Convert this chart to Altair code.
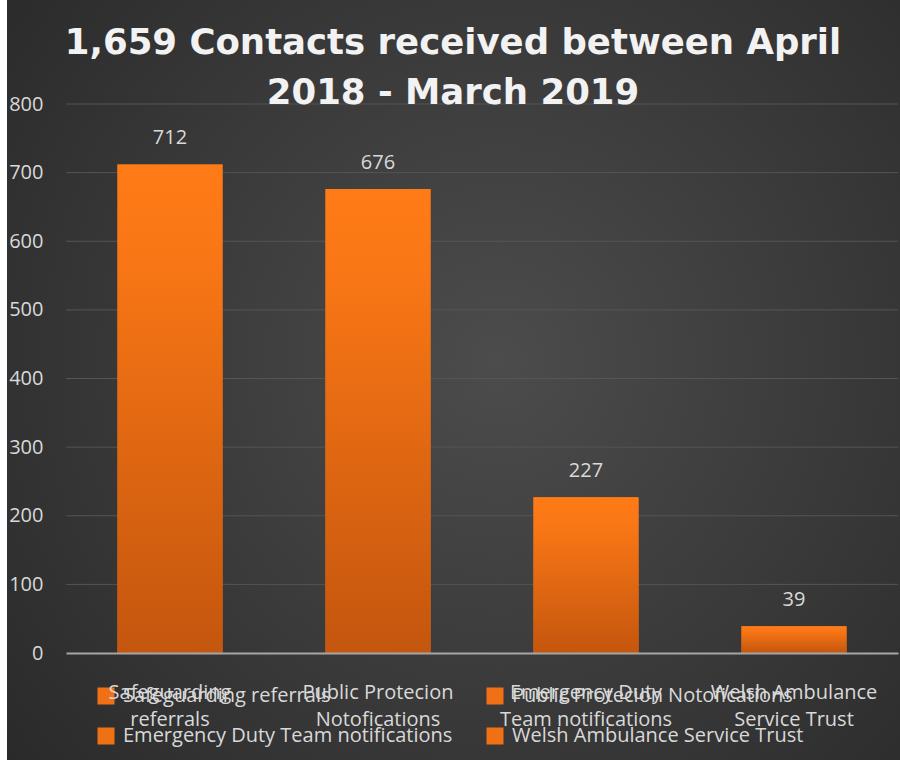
import altair as alt
import pandas as pd

# ---- data ----
names = [
    "Safeguarding referrals",
    "Public Protecion Notofications",
    "Emergency Duty Team notifications",
    "Welsh Ambulance Service Trust",
]
axis_labels = [
    "Safeguarding|referrals",
    "Public Protecion|Notofications",
    "Emergency Duty|Team notifications",
    "Welsh Ambulance|Service Trust",
]
counts = [712, 676, 227, 39]
y_ticks = [0, 100, 200, 300, 400, 500, 600, 700, 800]
title_lines = ["1,659 Contacts received between April", "2018 - March 2019"]

df = pd.DataFrame({"name": names, "axis_label": axis_labels, "count": counts})
grid_df = pd.DataFrame({"count": y_ticks[1:]})

# legend is laid out column by column: order so rows read as in the reference
legend_order = [names[0], names[2], names[1], names[3]]

FONT = "Open Sans"
TXT = "#d9d9d9"

bg_grad = alt.RadialGradient(
    gradient="radial",
    x1=0.55, y1=0.48, r1=0.0,
    x2=0.55, y2=0.48, r2=0.75,
    stops=[
        alt.GradientStop(offset=0, color="#4c4c4c"),
        alt.GradientStop(offset=1, color="#282828"),
    ],
)
bar_grad = alt.LinearGradient(
    gradient="linear",
    x1=0, y1=0, x2=0, y2=1,
    stops=[
        alt.GradientStop(offset=0, color="#ff7b17"),
        alt.GradientStop(offset=0.2, color="#f87615"),
        alt.GradientStop(offset=1, color="#c4560e"),
    ],
)

x_enc = alt.X(
    "axis_label:N",
    sort=None,
    scale=alt.Scale(paddingInner=0.495, paddingOuter=0.2475),
    axis=alt.Axis(
        title=None,
        labelExpr="split(datum.label, '|')",
        labelAngle=0,
        labelFont=FONT,
        labelFontSize=20,
        labelColor=TXT,
        labelLineHeight=27,
        labelPadding=29,
        labelBaseline="top",
        ticks=False,
        domain=True,
        domainColor="#a6a6a6",
        domainWidth=2,
        grid=False,
        zindex=1,
    ),
)
y_enc = alt.Y(
    "count:Q",
    scale=alt.Scale(domain=[0, 800], nice=False),
    axis=alt.Axis(
        title=None,
        values=y_ticks,
        labelFont=FONT,
        labelFontSize=20,
        labelColor=TXT,
        labelPadding=23,
        ticks=False,
        domain=False,
        grid=False,
        zindex=1,
    ),
)

bg = alt.Chart(alt.Data(values=[{"a": 1}])).mark_rect(
    color=bg_grad
).encode(
    x=alt.value(-59), x2=alt.value(834), y=alt.value(-104), y2=alt.value(656)
)

grid = alt.Chart(grid_df).mark_rule(color="#555555", strokeWidth=1).encode(
    y=y_enc, x=alt.value(0), x2=alt.value(832)
)

legend_bars = alt.Chart(df).mark_bar().encode(
    x=x_enc,
    y=y_enc,
    color=alt.Color(
        "name:N",
        scale=alt.Scale(domain=legend_order, range=["#f07016"] * 4),
        legend=alt.Legend(
            orient="none",
            legendX=30,
            legendY=582,
            columns=2,
            title=None,
            symbolType="square",
            symbolSize=289,
            symbolOpacity=1,
            symbolStrokeWidth=0,
            labelFont=FONT,
            labelFontSize=20,
            labelColor=TXT,
            labelOffset=7,
            columnPadding=32,
            rowPadding=20,
            padding=0,
            labelLimit=500,
        ),
    ),
)

grad_bars = alt.Chart(df).mark_bar(color=bar_grad).encode(x=x_enc, y=y_enc)

labels = alt.Chart(df).mark_text(
    font=FONT, fontSize=20, color=TXT, baseline="alphabetic", dy=-20
).encode(x=x_enc, y=y_enc, text=alt.Text("count:Q"))

chart = (
    alt.layer(bg, grid, legend_bars, grad_bars, labels)
    .properties(
        width=832,
        height=549,
        padding={"left": 66, "top": 104, "right": 2, "bottom": 107},
        autosize=alt.AutoSizeParams(type="none"),
        background="#ffffff",
        title=alt.TitleParams(
            text=title_lines,
            font="DejaVu Sans",
            fontSize=35.5,
            fontWeight="bold",
            color="#f2f2f2",
            anchor="middle",
            dx=-29,
            offset=-111,
            lineHeight=50,
        ),
    )
    .configure_view(strokeWidth=0)
)

chart.save("out.html", embed_options={"renderer": "svg", "actions": False})
